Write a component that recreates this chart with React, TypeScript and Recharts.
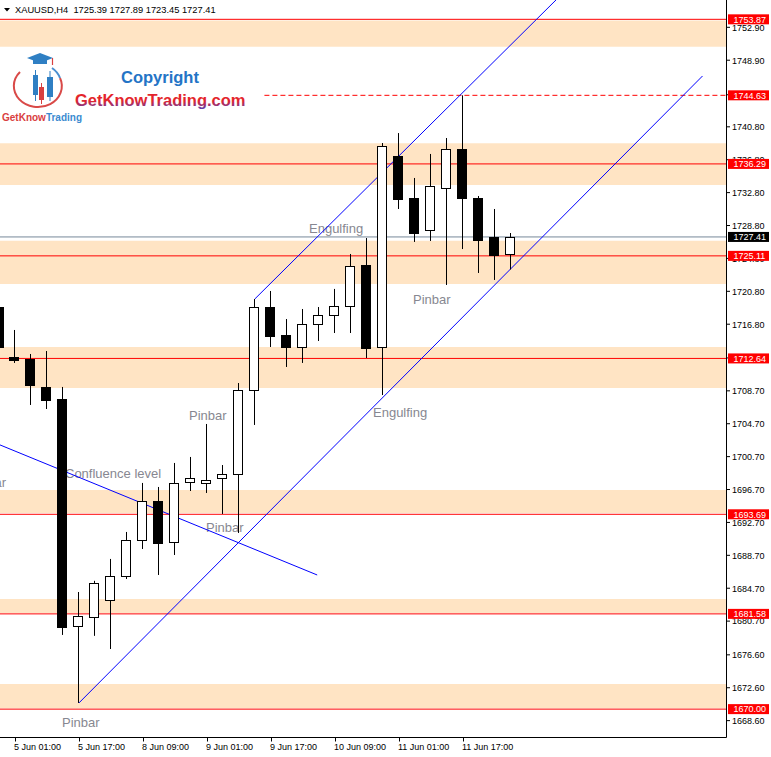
import React from 'react';
import { ComposedChart, Bar, Line, XAxis, YAxis, ReferenceLine, ReferenceArea } from 'recharts';

// H4 bars, index -1 is the one cut off at the left edge
const barIndex = [-1, 0, 1, 2, 3, 4, 5, 6, 7, 8, 9, 10, 11, 12, 13, 14, 15, 16, 17, 18, 19, 20, 21, 22, 23, 24, 25, 26, 27, 28, 29, 30, 31];
const opens = [1718.89, 1712.81, 1712.57, 1709.17, 1707.71, 1680.11, 1681.21, 1683.27, 1686.19, 1690.57, 1695.31, 1690.32, 1697.62, 1697.5, 1698.1, 1698.59, 1708.8, 1718.89, 1715.49, 1714.03, 1716.83, 1717.92, 1719.02, 1724.0, 1714.03, 1737.25, 1732.15, 1728.26, 1733.36, 1738.1, 1732.15, 1727.4, 1725.39];
const highs = [1719.6, 1716.1, 1713.18, 1713.54, 1709.17, 1684.24, 1685.6, 1688.26, 1691.54, 1697.5, 1697.01, 1699.93, 1700.66, 1704.67, 1699.68, 1709.65, 1719.87, 1720.84, 1717.43, 1718.65, 1718.89, 1721.09, 1725.34, 1727.28, 1738.83, 1740.04, 1734.58, 1737.5, 1739.44, 1744.63, 1732.39, 1730.81, 1727.89];
const lows = [1713.4, 1712.09, 1706.98, 1706.49, 1679.02, 1670.75, 1678.91, 1677.31, 1685.82, 1689.47, 1686.31, 1688.74, 1696.52, 1696.28, 1693.73, 1691.42, 1704.55, 1714.03, 1711.6, 1712.09, 1714.76, 1715.73, 1715.73, 1712.69, 1708.19, 1730.81, 1726.8, 1726.92, 1721.57, 1725.94, 1723.03, 1722.18, 1723.45];
const closes = [1714.03, 1712.45, 1709.41, 1707.59, 1679.99, 1681.33, 1685.34, 1686.19, 1690.57, 1695.31, 1690.2, 1697.5, 1698.1, 1697.86, 1698.59, 1708.8, 1718.89, 1715.37, 1714.03, 1716.83, 1717.92, 1719.02, 1723.88, 1713.91, 1738.47, 1732.02, 1727.89, 1733.6, 1738.1, 1732.15, 1727.04, 1725.21, 1727.41];
const lastSlot = 44;

const dateLabels = ['5 Jun 01:00', '5 Jun 17:00', '8 Jun 09:00', '9 Jun 01:00', '9 Jun 17:00', '10 Jun 09:00', '11 Jun 01:00', '11 Jun 17:00'];
const dateLabelBars = [0, 4, 8, 12, 16, 20, 24, 28];

const priceTicks = [1752.9, 1748.9, 1744.7, 1740.8, 1736.8, 1732.8, 1728.8, 1724.8, 1720.8, 1716.8, 1712.7, 1708.7, 1704.7, 1700.7, 1696.7, 1692.7, 1688.7, 1684.7, 1680.7, 1676.6, 1672.6, 1668.6];
const levels = [1753.87, 1744.63, 1736.29, 1725.11, 1712.64, 1693.69, 1681.58, 1670.0];
const bidPrice = 1727.41;

const zoneLows = [1750.54, 1733.73, 1721.69, 1709.05, 1693.84, 1681.69, 1670.1];
const zoneHighs = [1753.72, 1738.8, 1726.96, 1714.03, 1696.64, 1683.39, 1673.06];

const upperTrend = [{ x: 15, y: 1719.87 }, { x: 34, y: 1756.54 }];
const lowerTrend = [{ x: 4, y: 1670.75 }, { x: 43, y: 1746.98 }];
const confluenceTrend = [{ x: -1.5, y: 1702.57 }, { x: 18.9, y: 1686.31 }];
const dashedLevel = 1744.63;
const dashedFrom = 15.6;

const notes = [
  { text: 'Engulfing', x: 309, y: 233, anchor: 'start' },
  { text: 'Pinbar', x: 413, y: 304, anchor: 'start' },
  { text: 'Pinbar', x: 189, y: 420, anchor: 'start' },
  { text: 'Engulfing', x: 373, y: 417, anchor: 'start' },
  { text: 'Confluence level', x: 65, y: 478, anchor: 'start' },
  { text: 'Pinbar', x: 6, y: 487, anchor: 'end' },
  { text: 'Pinbar', x: 206, y: 532, anchor: 'start' },
  { text: 'Pinbar', x: 62, y: 727, anchor: 'start' },
];

const rows: any[] = [];
for (let k = barIndex[0]; k <= lastSlot; k++) {
  const i = barIndex.indexOf(k);
  if (i >= 0) {
    rows.push({ k, o: opens[i], h: highs[i], l: lows[i], c: closes[i], hl: [lows[i], highs[i]] });
  } else {
    rows.push({ k, hl: null });
  }
}

const AXIS_FONT = '"Liberation Sans", Arial, sans-serif';

const Candle = (props: any) => {
  const { x, y, width, height, payload } = props;
  if (!payload || payload.o == null || !height) return null;
  const { o, h, l, c } = payload;
  const cx = Math.round(x + width / 2);
  const k = height / (h - l);
  const py = (p: number) => y + (h - p) * k;
  const top = Math.round(py(Math.max(o, c))) + 0.5;
  const bot = Math.round(py(Math.min(o, c))) + 0.5;
  const bear = c < o;
  return (
    <g>
      <line x1={cx + 0.5} x2={cx + 0.5} y1={py(h)} y2={py(l)} stroke="#000" strokeWidth={1} />
      <rect x={cx - 4.5} y={top} width={9} height={Math.max(bot - top, 1)} fill={bear ? '#000' : '#fff'} stroke="#000" strokeWidth={1} />
    </g>
  );
};

const DateTick = (props: any) => {
  const { x, y, payload } = props;
  const i = dateLabelBars.indexOf(payload.value);
  if (i < 0) return null;
  const tx = Math.round(x) + 0.5;
  return (
    <g>
      <line x1={tx} x2={tx} y1={y - 6} y2={y - 2} stroke="#000" />
      <text x={tx - 1.5} y={y + 6.5} fontSize={9} fontFamily={AXIS_FONT} fill="#000">
        {dateLabels[i]}
      </text>
    </g>
  );
};

const PriceTick = (props: any) => {
  const { x, y, payload } = props;
  const v = payload.value;
  const label = v.toFixed(2);
  if (levels.includes(v) || v === bidPrice) {
    return (
      <g>
        <rect x={x - 4.5} y={y - 5} width={41} height={10} fill={v === bidPrice ? '#000' : '#FF0000'} />
        <text x={x + 1} y={y + 3.3} fontSize={9} fontFamily={AXIS_FONT} fill="#fff">
          {label}
        </text>
      </g>
    );
  }
  return (
    <g>
      <line x1={x - 6} x2={x - 2.5} y1={y} y2={y} stroke="#000" />
      <text x={x - 0.5} y={y + 3.3} fontSize={9} fontFamily={AXIS_FONT} fill="#000">
        {label}
      </text>
    </g>
  );
};

const Backdrop = () => (
  <svg width={771} height={757} style={{ position: 'absolute', left: 0, top: 0 }}>
    <defs>
      <linearGradient id="gktText" x1="0" y1="0" x2="0" y2="1">
        <stop offset="0.55" stopColor="#e3242c" />
        <stop offset="1" stopColor="#5a3fb0" />
      </linearGradient>
    </defs>
    <polygon points="4,8 10,8 7,11.5" fill="#000" />
    <text x={15} y={13} fontSize={9.3} fontFamily={AXIS_FONT} fill="#000" style={{ whiteSpace: 'pre' }}>
      {'XAUUSD,H4  1725.39 1727.89 1723.45 1727.41'}
    </text>

    {/* logo */}
    <polygon points="27,58 40,53 53,58 40,63" fill="#2f7fc3" />
    <rect x={33} y={59} width={14} height={5} fill="#2f7fc3" />
    <line x1={52.5} y1={58} x2={52.5} y2={65} stroke="#d9403f" strokeWidth={1.2} />
    <path d="M 20 72 A 24 21 0 1 0 60 78" fill="none" stroke="#d94a48" strokeWidth={2} />
    <path d="M 60 78 A 24 21 0 0 0 52 68" fill="none" stroke="#4a8fd0" strokeWidth={2} />
    <line x1={35.5} y1={70} x2={35.5} y2={101} stroke="#2f7fc3" />
    <rect x={33} y={75} width={5} height={20} fill="#2f7fc3" />
    <line x1={41.5} y1={83} x2={41.5} y2={104} stroke="#d9403f" />
    <rect x={39} y={87} width={5} height={13} fill="#d9403f" />
    <line x1={50} y1={71} x2={50} y2={101} stroke="#2f7fc3" />
    <rect x={47} y={77} width={6} height={20} fill="#2f7fc3" />
    <text x={2} y={121} fontSize={10} fontFamily={AXIS_FONT} fontWeight={600}>
      <tspan fill="#d9403f">GetKnow</tspan>
      <tspan fill="#3a8ad0">Trading</tspan>
    </text>
    <text x={121} y={83} fontSize={16.5} fontFamily={AXIS_FONT} fontWeight={700} fill="#2474c6">
      Copyright
    </text>
    <text x={75} y={106} fontSize={16.5} fontFamily={AXIS_FONT} fontWeight={700} fill="url(#gktText)">
      GetKnowTrading.com
    </text>

    {notes.map((n, i) => (
      <text key={i} x={n.x} y={n.y} textAnchor={n.anchor as any} fontSize={13} fontFamily={AXIS_FONT} fill="#878791">
        {n.text}
      </text>
    ))}
  </svg>
);

export default function App() {
  return (
    <div style={{ position: 'relative', width: 771, height: 757, background: '#fff' }}>
      <style>{'body{margin:0}'}</style>
      <Backdrop />
      <ComposedChart
        width={771}
        height={757}
        data={rows}
        margin={{ top: 0, right: 0, bottom: 0, left: -9 }}
        style={{ position: 'relative' }}
      >
        <XAxis
          dataKey="k"
          type="category"
          interval={0}
          height={19.5}
          tick={<DateTick />}
          tickLine={false}
          tickSize={4}
          tickMargin={2}
          axisLine={{ stroke: '#000' }}
        />
        <XAxis xAxisId="n" dataKey="x" type="number" domain={[-1.5, 44.5]} allowDataOverflow hide />
        <YAxis
          orientation="right"
          type="number"
          width={44.5}
          domain={[1666.55, 1756.22]}
          allowDataOverflow
          ticks={[...priceTicks, bidPrice, ...levels]}
          interval={0}
          tick={<PriceTick />}
          tickLine={false}
          tickSize={4}
          tickMargin={2}
          axisLine={{ stroke: '#000' }}
        />
        {zoneLows.map((lo, i) => (
          <ReferenceArea key={`z${i}`} y1={lo} y2={zoneHighs[i]} fill="#FFE4C4" fillOpacity={1} stroke="none" zIndex={50} />
        ))}
        {levels
          .filter((v) => v !== dashedLevel)
          .map((v) => (
            <ReferenceLine key={`l${v}`} y={v} stroke="#FF0000" strokeWidth={1} zIndex={150} />
          ))}
        <ReferenceLine
          xAxisId="n"
          segment={[
            { x: dashedFrom, y: dashedLevel },
            { x: 44.5, y: dashedLevel },
          ]}
          stroke="#FF0000"
          strokeDasharray="5 3"
          zIndex={150}
        />
        <ReferenceLine y={bidPrice} stroke="#778899" strokeWidth={1} zIndex={150} />
        <Line xAxisId="n" data={upperTrend} dataKey="y" type="linear" stroke="#0000FF" strokeWidth={1} dot={false} activeDot={false} isAnimationActive={false} zIndex={150} />
        <Line xAxisId="n" data={lowerTrend} dataKey="y" type="linear" stroke="#0000FF" strokeWidth={1} dot={false} activeDot={false} isAnimationActive={false} zIndex={150} />
        <Line xAxisId="n" data={confluenceTrend} dataKey="y" type="linear" stroke="#0000FF" strokeWidth={1} dot={false} activeDot={false} isAnimationActive={false} zIndex={150} />
        <Bar dataKey="hl" barSize={9} shape={<Candle />} isAnimationActive={false} zIndex={450} />
      </ComposedChart>
    </div>
  );
}
